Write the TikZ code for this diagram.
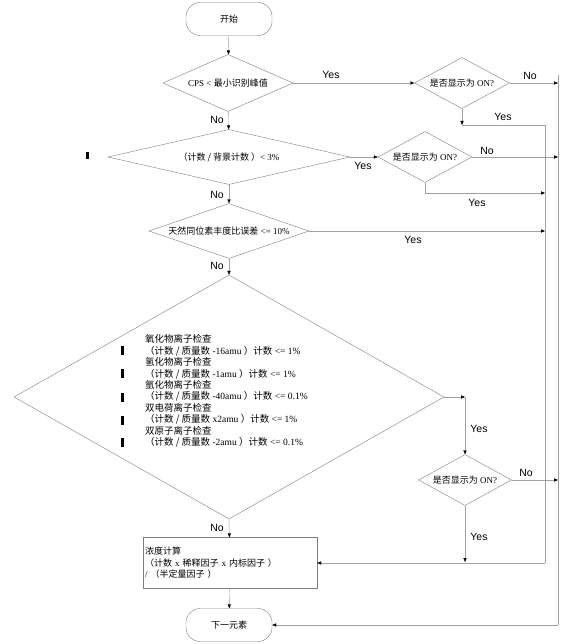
\documentclass[tikz,border=0pt]{standalone}
\usepackage{fontspec}
\setmainfont{Liberation Serif}
\newfontfamily\cjk{Noto Sans CJK SC}
\newfontfamily\arialfont{Liberation Sans}
\usepackage{tikz}
\usetikzlibrary{arrows.meta, shapes.geometric}
\newcommand{\zh}[1]{{\cjk #1}}

\begin{document}
\begin{tikzpicture}[x=1pt, y=1pt, >={Triangle[length=4pt, width=3.2pt, color=black]}, font=\fontsize{9}{11.4}\selectfont]
\definecolor{linegray}{RGB}{160,160,160}
\definecolor{boxgray}{RGB}{125,125,125}
\tikzset{decision/.style={diamond, draw=boxgray, thin, inner sep=0pt},
  terminal/.style={draw=boxgray, thin, rounded corners=14pt, minimum width=86pt, minimum height=33pt},
  process/.style={draw=boxgray, thin, minimum width=174pt, minimum height=51pt, text width=170pt, align=left, inner sep=2pt},
  flow/.style={->, linegray, thin},
  bus/.style={linegray, thin},
  branch/.style={font=\arialfont\fontsize{10.5}{12}\selectfont}}
\useasboundingbox (0,0) rectangle (574,-644);
% Flow chart nodes
\node[terminal] (start) at (229,-19) {\zh{开始}};
\node[decision, minimum width=130pt, minimum height=57pt, aspect=2.3] (cps) at (228,-83) {CPS < \zh{最小识别峰值}};
\node[decision, minimum width=95pt, minimum height=51pt, aspect=1.9] (disp1) at (462,-83) {\zh{是否显示为} ON?};
\node[decision, minimum width=242pt, minimum height=55pt, aspect=4.4] (bkg) at (229,-157) {\zh{（计数 / 背景计数 ）}< 3\%};
\node[decision, minimum width=94pt, minimum height=51pt, aspect=1.9] (disp2) at (425,-157) {\zh{是否显示为} ON?};
\node[decision, minimum width=160pt, minimum height=55pt, aspect=2.9] (iso) at (229,-231) {\zh{天然同位素丰度比误差} <= 10\%};
\node[decision, minimum width=430pt, minimum height=244pt, aspect=1.76] (intf) at (229,-397) {};
\node[decision, minimum width=93pt, minimum height=51pt, aspect=1.8] (disp3) at (465,-480) {\zh{是否显示为} ON?};
\node[process] (calc) at (230,-563) {\zh{浓度计算}\\\zh{（计数} x \zh{稀释因子} x \zh{内标因子 ）}\\/ \zh{（半定量因子 ）}};
\node[terminal] (next) at (229,-625) {\zh{下一元素}};
% text of the interference checks
\node[anchor=west, align=left, inner sep=0pt, font=\fontsize{9.5}{11.4}\selectfont] (checks) at (145,-391) {%
  \zh{氧化物离子检查}\\\zh{（计数 / 质量数} -16amu \zh{）计数} <= 1\%\\
  \zh{氢化物离子检查}\\\zh{（计数 / 质量数} -1amu \zh{）计数} <= 1\%\\
  \zh{氩化物离子检查}\\\zh{（计数 / 质量数} -40amu \zh{）计数} <= 0.1\%\\
  \zh{双电荷离子检查}\\\zh{（计数 / 质量数} x2amu \zh{）计数} <= 1\%\\
  \zh{双原子离子检查}\\\zh{（计数 / 质量数} -2amu \zh{）计数} <= 0.1\%};
% bus points
\coordinate (outTop) at (558,-75);
\coordinate (outBot) at (558,-625);
\coordinate (inTop) at (545,-125);
\coordinate (inBot) at (545,-563);
\coordinate (yesA) at (462,-125);
\coordinate (yesC) at (425,-193);
\coordinate (yesJ) at (465,-397);
\coordinate (yesB) at (465,-562);
% main column
\draw[flow] (start) -- (cps);
\draw[flow] (cps) -- (bkg);
\draw[flow] (bkg) -- (iso);
\draw[flow] (iso) -- (intf);
\draw[flow] (intf.south) -- (calc);
\draw[flow] (calc) -- (next);
% branches
\draw[flow] (cps.east) -- (disp1.west);
\draw[flow] (disp1.east) -- (disp1.east -| outTop);
\draw[flow] (disp1.south) -- (yesA);
\draw[flow] (bkg.east) -- (disp2.west);
\draw[flow] (disp2.east) -- (disp2.east -| outTop);
\draw[flow] (disp2.south) -- (yesC) -- (yesC -| inTop);
\draw[flow] (iso.east) -- (iso.east -| inTop);
\draw[flow] (intf.east) -- (yesJ);
\draw[flow] (yesJ) -- (disp3.north);
\draw[flow] (disp3.east) -- (disp3.east -| outTop);
\draw[flow] (disp3.south) -- (yesB);
% the two buses
\draw[bus] (yesA) -- (inTop) -- (inBot);
\draw[flow] (inBot) -- (calc.east);
\draw[bus] (outTop) -- (outBot);
\draw[flow] (outBot) -- (next.east);
% Yes / No labels
\node[branch] (lb1) at (331,-75) {Yes};
\node[branch] (lb2) at (217,-120) {No};
\node[branch] (lb3) at (530,-76) {No};
\node[branch] (lb4) at (503,-117) {Yes};
\node[branch] (lb5) at (363,-166) {Yes};
\node[branch] (lb6) at (487,-151) {No};
\node[branch] (lb7) at (477,-203) {Yes};
\node[branch] (lb8) at (217,-195) {No};
\node[branch] (lb9) at (413,-240) {Yes};
\node[branch] (lb10) at (217,-266) {No};
\node[branch] (lb11) at (479,-429) {Yes};
\node[branch] (lb12) at (526,-473) {No};
\node[branch] (lb13) at (479,-537) {Yes};
\node[branch] (lb14) at (217,-528) {No};
% revision bars
\fill (86,-152) rectangle (89,-159);
\foreach \y in {346,369,393,416,438} {
  \fill (121,-\y) rectangle (124,-\y-9);
}
\end{tikzpicture}
\end{document}
